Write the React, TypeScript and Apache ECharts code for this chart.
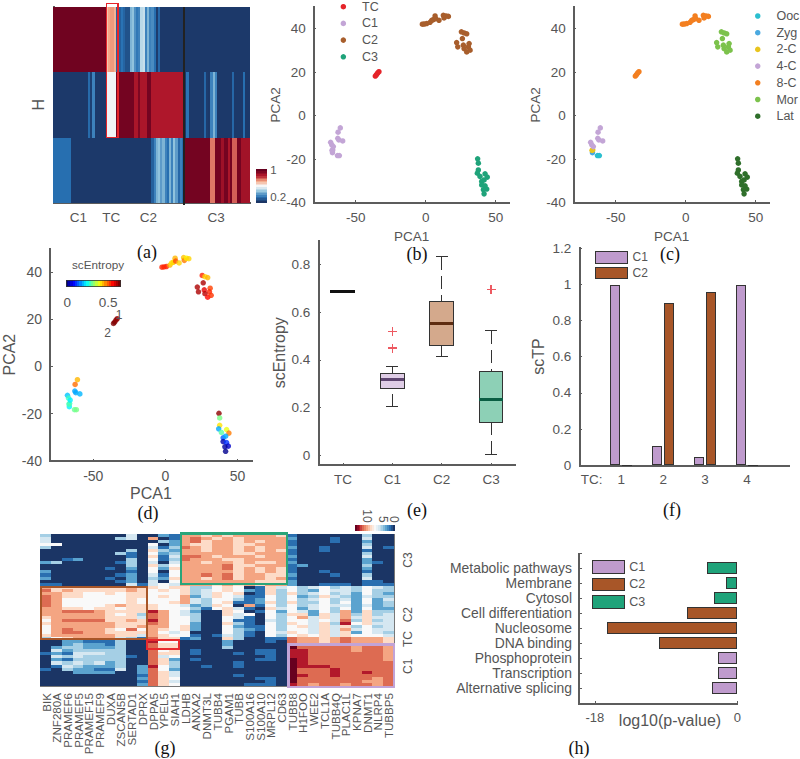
import React, { useEffect, useRef } from "react";
import * as echarts from "echarts";

// ---------- panel (a): H matrix ----------
const hTop = [0.98,0.98,0.98,0.98,0.98,0.98,0.98,0.98,0.98,0.98,0.98,0.98,0.98,0.98,0.98,0.98,0.98,0.98,0.98,0.98,0.98,0.98,0.98,0.98,0.6,0.66,0.68,0.68,0.64,0.12,0.12,0.17,0.13,0.08,0.08,0.3,0.33,0.23,0.18,0.2,0.4,0.42,0.2,0.3,0.2,0.22,0.16,0.02,0.14,0.01,0.01,0.01,0.01,0.01,0.01,0.01,0.01,0.01,0.01,0.01,0.01,0.01,0.01,0.01,0.01,0.01,0.01,0.01,0.01,0.01,0.01,0.01,0.01,0.01,0.01,0.01,0.01,0.01,0.01,0.01,0.01,0.01,0.01,0.01,0.01,0.01,0.01,0.01,0.01,0.01];
const hMid = [0.01,0.01,0.01,0.01,0.01,0.01,0.01,0.01,0.01,0.01,0.01,0.01,0.01,0.01,0.01,0.01,0.15,0.03,0.2,0.01,0.01,0.01,0.01,0.01,0.49,0.49,0.49,0.49,0.49,0.97,0.97,0.97,0.97,0.97,0.97,0.97,0.97,0.85,0.85,0.95,0.85,0.85,0.85,0.97,0.97,0.84,0.84,0.84,0.84,0.84,0.84,0.84,0.84,0.84,0.84,0.84,0.84,0.84,0.84,0.84,0.01,0.17,0.01,0.01,0.01,0.01,0.01,0.01,0.01,0.14,0.02,0.01,0.2,0.3,0.2,0.01,0.01,0.01,0.01,0.01,0.01,0.01,0.14,0.01,0.01,0.01,0.01,0.16,0.01,0.01];
const hBot = [0.16,0.16,0.16,0.16,0.16,0.16,0.16,0.16,0.01,0.01,0.01,0.01,0.01,0.01,0.01,0.01,0.01,0.01,0.01,0.01,0.01,0.01,0.01,0.01,0.01,0.01,0.01,0.01,0.01,0.01,0.01,0.01,0.01,0.01,0.01,0.01,0.01,0.01,0.01,0.01,0.01,0.01,0.01,0.01,0.01,0.12,0.2,0.3,0.33,0.25,0.3,0.2,0.16,0.3,0.2,0.33,0.25,0.14,0.2,0.16,0.97,0.97,0.97,0.97,0.97,0.97,0.97,0.97,0.97,0.97,0.97,0.97,0.72,0.72,0.97,0.97,0.97,0.88,0.97,0.97,0.85,0.97,0.75,0.75,0.97,0.97,0.87,0.87,0.87,0.87];
const hLabelAt: Record<number, string> = { 11: "C1", 26: "TC", 43: "C2", 74: "C3" };
const hColorbar = [0,0.05,0.1,0.15,0.2,0.25,0.3,0.35,0.4,0.45,0.5,0.55,0.6,0.65,0.7,0.75,0.8,0.85,0.9,0.95,1];
const hColorbarLabels: Record<number, string> = { 3: "0.2", 20: "1" };

// ---------- panels (b, c, d): PCA coordinates ----------
const oocPts = [[-63,-18.3],[-61.7,-18.3]];
const zygPts = [[-66.6,-17]];
const twoCellPts = [[-66.4,-15.7],[-66.9,-15.9]];
const fourCellPts = [[-61,-5.6],[-62.6,-7.6],[-62.8,-10.4],[-62.1,-11.1],[-59.3,-11.6],[-67.9,-12.2],[-67.1,-13.4],[-66,-14.2]];
const tcPts = [[-36,18.2],[-35.2,18.8],[-34.3,19.6],[-33.4,20.2]];
const eightCellPts = [[-2.4,42],[-1,42.1],[0.7,42.3],[3.1,42.9],[4.3,43.8],[5.5,44.1],[6.7,45.8],[7.1,44.6],[9.5,43.8],[12.6,46.1],[13.1,44.9],[14.5,45.8],[16.2,45.6]];
const morulaPts = [[25.5,38.5],[27.4,38],[29.3,37.6],[26.2,35.4],[22.1,33.6],[22.9,31.6],[26.9,32.4],[31,33.1],[30.5,31.6],[27.4,30.8],[29.3,29.3],[31.7,30.1]];
const latePts = [[37.1,-19.8],[37.6,-21.8],[37.6,-24.9],[36.9,-26.4],[38.8,-27.9],[42.4,-26.7],[44,-28.2],[40,-30.2],[41.7,-29.5],[40,-31.8],[42.4,-32.2],[43.6,-33.7],[41.2,-34],[41.7,-35.9]];

const oocEntropy = [0.33,0.34];
const zygEntropy = [0.25];
const twoCellEntropy = [0.3,0.31];
const fourCellEntropy = [0.48,0.53,0.2,0.2,0.21,0.22,0.3,0.25];
const tcEntropy = [0.69,0.69,0.68,0.68];
const eightCellEntropy = [0.58,0.58,0.58,0.48,0.45,0.46,0.48,0.55,0.46,0.47,0.52,0.44,0.46];
const morulaEntropy = [0.58,0.46,0.48,0.66,0.66,0.66,0.62,0.56,0.58,0.65,0.6,0.57];
const lateEntropy = [0.68,0.34,0.45,0.2,0.32,0.42,0.52,0.15,0.2,0.03,0.12,0.05,0.02,0.01];
const entropyBar = [0,0.03,0.06,0.09,0.12,0.15,0.18,0.21,0.24,0.27,0.3,0.33,0.36,0.39,0.42,0.45,0.48,0.51,0.54,0.57,0.6,0.63,0.66,0.69];
const entropyBarLabels: Record<number, string> = { 0: "0", 18: "0.5" };

// ---------- panel (e): scEntropy boxes ----------
const boxCategories = ["TC", "C1", "C2", "C3"];
const boxStats = [
  [0, 0.685, 0.685, 0.685, 0.685, 0.685],
  [1, 0.204, 0.28, 0.32, 0.345, 0.372],
  [2, 0.415, 0.46, 0.552, 0.645, 0.833],
  [3, 0.004, 0.14, 0.235, 0.352, 0.523],
];
const boxFills = ["#111111", "#dfcde6", "#d4a98c", "#8dd0b6"];
const boxMedians = ["#111111", "#5e4570", "#5e2c10", "#0a5e43"];
const boxOutliers = [[1, 0.52], [1, 0.45], [3, 0.695]];

// ---------- panel (f): scTP ----------
const tpCategories = ["", "1", "2", "3", "4", " "];
const tpC1 = [null, 0.995, 0.105, 0.045, 0.995, null];
const tpC2 = [null, 0.003, 0.895, 0.955, 0.003, null];

// ---------- panel (g): marker genes ----------
const geneNames = ["BIK","ZNF280A","PRAMEF6","PRAMEF5","PRAMEF15","PRAMEF9","DUXA","ZSCAN5B","SERTAD1","DPRX","DPPA5","YPEL5","SIAH1","LDHB","ANXA2","DNMT3L","TUBB4","PGAM1","TUBB","S100A16","S100A10","MRPL12","CD63","TUBB8","H1FOO","WEE2","TCL1A","TUBB4Q","PLAC1L","KPNA7","DNMT1","NLRP4","TUBBP5"];
const geneRowLabels: Record<number, string> = { 8: "C3", 26: "C2", 34: "TC", 43: "C1" };
const geneLevels = [
  "3000000040 021 7767677776 1000000300",
  "4000000340 701 7876767777 2000100400",
  "4000000000 032 7867767677 1000100200",
  "5500000000 502 7667766777 1000000300",
  "3000000000 413 8767767677 2001000401",
  "0000000030 632 7767767676 1001000100",
  "0000000310 523 7777766777 1000000300",
  "0000000010 614 8876777677 2000000400",
  "0012000030 513 8777667777 1000000200",
  "2300000130 404 7767767667 2000000210",
  "0000000030 635 7777866777 1200000300",
  "0000001020 526 7777867676 1000000200",
  "2000000010 505 7777767676 1001000100",
  "1000000120 415 7787867766 2000100300",
  "2000001020 326 7767867767 1000000400",
  "0000000120 405 7777777666 2000000110",
  "1100000041 454 7776767677 2001110111",
  "7666666676 656 6335650164 5345343543",
  "8676666676 565 6345652163 5325443533",
  "7766556566 555 6346560163 6345342532",
  "8766555566 565 7246541153 5236432433",
  "8755555565 555 7435531253 5345342524",
  "8755555565 556 7435611263 6335352523",
  "8755556766 655 4236507153 5345442423",
  "7766566566 655 5315641064 5245352522",
  "7788876666 975 4200650152 5425372633",
  "7777776563 875 4300645053 6626473634",
  "6777776664 875 5300541053 5746474644",
  "5788886676 975 5300511043 5545483634",
  "6777777666 875 5200631053 6546395644",
  "5777777667 775 6200521153 5646463534",
  "5787776585 765 6200532153 5546474544",
  "5788776666 754 5000531054 6546462543",
  "6777777664 765 5101431053 5656465554",
  "3567777431 866 1200630011 8776787776",
  "0022111300 955 0000200010 8776787776",
  "0023221300 866 0000200000 9888888887",
  "0233222300 866 0000300000 a888887887",
  "0423333300 856 0100000110 9988887887",
  "1214443300 866 0100010110 9988888887",
  "0434333310 845 0000000010 9988888887",
  "0213333300 862 0100000110 a988888887",
  "0434342300 863 0000010000 a988888888",
  "0143222302 953 0010010000 a999888888",
  "1032211402 852 0000000000 a888988888",
  "0002222002 864 0000000000 a888988988",
  "0000000001 864 0000010000 a988988888",
  "0000000002 865 0000000110 a888888878",
  "0000000001 864 0000000010 a888888778",
  "0000000002 865 0000001110 9878878878",
];
const geneBar = [10,9.5,9,8.5,8,7.5,7,6.5,6,5.5,5,4.5,4,3.5,3,2.5,2,1.5,1,0.5,0];
const geneBarLabels: Record<number, string> = { 6: "10", 14: "5", 20: "0" };

// ---------- panel (h): enrichment ----------
const termNames = ["", "Alternative splicing", "Transcription", "Phosphoprotein", "DNA binding", "Nucleosome", "Cell differentiation", "Cytosol", "Membrane", "Metabolic pathways", " "];
const enrichC1 = [null, -3.22, -2.38, -2.38, null, null, null, null, null, null, null];
const enrichC2 = [null, null, null, null, -9.83, -16.5, -6.32, null, null, null, null];
const enrichC3 = [null, null, null, null, null, null, null, -2.93, -1.42, -3.77, null];

const PURPLE = "#bf9bcd";
const BROWN = "#a85628";
const GREEN = "#1fa37a";
const AXIS = "#5c5c5c";
const TEXT = "#555555";
const SANS = "Liberation Sans";
const RDBU = ["#1b3565", "#2871b3", "#92c5de", "#f7f7f7", "#f4a582", "#b2182b", "#67001f"];
const GENE_SCALE = ["#1b3565", "#2a6fb0", "#5ba3cf", "#a5cfe5", "#d5e7f1", "#f9f9f9", "#fddbc7", "#f4a582", "#dd6b52", "#b2182b", "#67001f"];
const JET = ["#00007f", "#0000ff", "#007fff", "#00ffff", "#7fff7f", "#ffff00", "#ff7f00", "#ff0000", "#7f0000"];

function valueAxis(gridIndex: number, min: number, max: number, ticks: number[], name: string, nameGap: number, nameSize: number, fontSize = 13.5) {
  return {
    type: "value", gridIndex, min, max, name, nameGap, nameLocation: "middle",
    nameTextStyle: { fontFamily: SANS, fontSize: nameSize, color: TEXT },
    axisLine: { show: true, onZero: false, lineStyle: { color: AXIS, width: 1.5 } },
    axisTick: { show: true, inside: true, length: 2.5, customValues: ticks, lineStyle: { color: AXIS } },
    axisLabel: { show: true, customValues: ticks, fontFamily: SANS, fontSize, color: TEXT, margin: 8, hideOverlap: false },
    splitLine: { show: false },
  };
}

function catAxis(gridIndex: number, data: string[], extra: any = {}) {
  return {
    type: "category", gridIndex, data,
    axisLine: { show: true, onZero: false, lineStyle: { color: AXIS, width: 1.5 } },
    axisTick: { show: false },
    axisLabel: { interval: 0, fontFamily: SANS, fontSize: 13.5, color: TEXT, hideOverlap: false },
    splitLine: { show: false },
    splitArea: { show: false },
    ...extra,
  };
}

const indexNames = (n: number) => Array.from({ length: n }, (_, i) => String(i));
const toPoints = (pts: number[][], values: number[]) => pts.map((p, i) => [p[0], p[1], values[i]]);

function caption(text: string, x: number, y: number) {
  return { type: "text", x, y, z: 100, style: { text, fontFamily: "Liberation Serif", fontSize: 18, fill: "#111", align: "center", verticalAlign: "middle" } };
}
function note(text: string, x: number, y: number, fontSize: number, rotation = 0) {
  return { type: "text", x, y, rotation, z: 100, style: { text, fontFamily: SANS, fontSize, fill: TEXT, align: "center", verticalAlign: "middle" } };
}
function frame(x: number, y: number, width: number, height: number, stroke: string, lineWidth = 2) {
  return { type: "rect", z: 100, shape: { x, y, width, height }, style: { fill: "none", stroke, lineWidth } };
}

function renderBox(params: any, api: any) {
  const cat = api.value(0);
  const low = api.coord([cat, api.value(1)]);
  const q1 = api.coord([cat, api.value(2)]);
  const med = api.coord([cat, api.value(3)]);
  const q3 = api.coord([cat, api.value(4)]);
  const high = api.coord([cat, api.value(5)]);
  const x = med[0];
  const i = params.dataIndex;
  if (api.value(2) === api.value(4)) {
    return { type: "line", shape: { x1: x - 12.5, y1: med[1], x2: x + 12.5, y2: med[1] }, style: { stroke: boxMedians[i], lineWidth: 3 } };
  }
  const line = (x1: number, y1: number, x2: number, y2: number, style: any) => ({ type: "line", shape: { x1, y1, x2, y2 }, style: { stroke: "#333", lineWidth: 1, ...style } });
  return {
    type: "group",
    children: [
      line(x, high[1], x, q3[1], { lineDash: [13, 6] }),
      line(x, low[1], x, q1[1], { lineDash: [13, 6] }),
      line(x - 6, high[1], x + 6, high[1], {}),
      line(x - 6, low[1], x + 6, low[1], {}),
      { type: "rect", shape: { x: x - 11.8, y: q3[1], width: 23.6, height: q1[1] - q3[1] }, style: { fill: boxFills[i], stroke: "#333", lineWidth: 1 } },
      line(x - 11.8, med[1], x + 11.8, med[1], { stroke: boxMedians[i], lineWidth: 3 }),
    ],
  };
}

function buildOption() {
  const allEntropy = [
    ...toPoints(oocPts, oocEntropy), ...toPoints(zygPts, zygEntropy), ...toPoints(twoCellPts, twoCellEntropy),
    ...toPoints(fourCellPts, fourCellEntropy), ...toPoints(tcPts, tcEntropy), ...toPoints(eightCellPts, eightCellEntropy),
    ...toPoints(morulaPts, morulaEntropy), ...toPoints(latePts, lateEntropy),
  ];
  const hCells: number[][] = [];
  [hBot, hMid, hTop].forEach((row, y) => row.forEach((v, x) => hCells.push([x, y, v])));
  const geneCells: number[][] = [];
  geneLevels.forEach((row, y) => row.replace(/ /g, "").split("").forEach((c, x) => geneCells.push([x, y, parseInt(c, 11)])));

  const grids = [
    { left: 53.3, top: 6.8, width: 196.7, height: 196 },
    { left: 256.7, top: 169.3, width: 10, height: 33.4 },
    { left: 313.7, top: 6.8, width: 196, height: 196 },
    { left: 573.7, top: 6.8, width: 196, height: 196 },
    { left: 47.6, top: 248.3, width: 204.4, height: 212.7 },
    { left: 66, top: 280.7, width: 54.7, height: 6 },
    { left: 318.3, top: 240.6, width: 197.4, height: 224.4 },
    { left: 579.3, top: 248, width: 209.7, height: 217.3 },
    { left: 40.7, top: 534.3, width: 353.3, height: 151.7 },
    { left: 355, top: 525.7, width: 40, height: 5.3 },
    { left: 579, top: 553.3, width: 158.3, height: 150 },
  ].map((g) => ({ ...g, containLabel: false }));

  const xAxes: any[] = [
    catAxis(0, indexNames(90), { axisLabel: { interval: 0, margin: 8, fontFamily: SANS, fontSize: 13.5, color: TEXT, hideOverlap: false, formatter: (_: string, i: number) => hLabelAt[i] || "" } }),
    catAxis(1, ["bar"], { show: false }),
    valueAxis(2, -80, 60, [-50, 0, 50], "PCA1", 27, 13.5),
    valueAxis(3, -80, 60, [-50, 0, 50], "PCA1", 27, 13.5),
    valueAxis(4, -80, 60, [-50, 0, 50], "PCA1", 24, 16, 14),
    catAxis(5, entropyBar.map(String), { axisLine: { show: false }, axisLabel: { interval: 0, margin: 9, fontFamily: SANS, fontSize: 13.5, color: TEXT, hideOverlap: false, formatter: (_: string, i: number) => entropyBarLabels[i] || "" } }),
    catAxis(6, boxCategories, { axisTick: { show: true, inside: true, alignWithLabel: true, length: 2.5, lineStyle: { color: AXIS } }, axisLabel: { interval: 0, margin: 7, fontFamily: SANS, fontSize: 13.5, color: TEXT } }),
    catAxis(7, tpCategories, { boundaryGap: false, axisLabel: { interval: 0, margin: 7, fontFamily: SANS, fontSize: 13.5, color: TEXT } }),
    catAxis(8, geneNames, { axisLine: { show: true, lineStyle: { color: "#777", width: 1 } }, axisTick: { show: true, inside: true, length: 2, alignWithLabel: true, lineStyle: { color: "#333" } }, axisLabel: { interval: 0, rotate: 90, margin: 7, fontFamily: SANS, fontSize: 11.6, color: TEXT, hideOverlap: false } }),
    catAxis(9, indexNames(21), { position: "top", axisLine: { show: false }, axisLabel: { interval: 0, rotate: 90, margin: 3, fontFamily: SANS, fontSize: 12, color: TEXT, hideOverlap: false, formatter: (_: string, i: number) => geneBarLabels[i] || "" } }),
    valueAxis(10, -20, 0, [-18, 0], "", 0, 12, 13),
  ];
  const yAxes: any[] = [
    catAxis(0, ["bottom", "middle", "top"], { axisLabel: { show: false }, name: "H", nameLocation: "middle", nameGap: 7, nameTextStyle: { fontFamily: SANS, fontSize: 16, color: TEXT } }),
    catAxis(1, indexNames(21), { position: "right", axisLine: { show: false }, axisLabel: { interval: 0, margin: 3.5, fontFamily: SANS, fontSize: 11.5, color: TEXT, hideOverlap: false, formatter: (_: string, i: number) => hColorbarLabels[i] || "" } }),
    valueAxis(2, -40, 50, [-40, -20, 0, 20, 40], "PCA2", 30, 13.5),
    valueAxis(3, -40, 50, [-40, -20, 0, 20, 40], "PCA2", 30, 13.5),
    valueAxis(4, -40, 50, [-40, -20, 0, 20, 40], "PCA2", 33, 16, 14),
    catAxis(5, ["bar"], { show: false }),
    valueAxis(6, -0.04, 0.9, [0, 0.2, 0.4, 0.6, 0.8], "scEntropy", 30, 16),
    valueAxis(7, 0, 1.2, [0, 0.2, 0.4, 0.6, 0.8, 1, 1.2], "scTP", 33, 16),
    catAxis(8, indexNames(50), { inverse: true, position: "right", axisLine: { show: true, lineStyle: { color: "#777", width: 1 } }, axisLabel: { interval: 0, rotate: 90, margin: 8, fontFamily: SANS, fontSize: 12, color: TEXT, hideOverlap: false, formatter: (_: string, i: number) => geneRowLabels[i] || "" } }),
    catAxis(9, ["bar"], { show: false }),
    catAxis(10, termNames, { boundaryGap: false, axisTick: { show: true, inside: true, length: 2.5, alignWithLabel: true, lineStyle: { color: AXIS } }, axisLabel: { interval: 0, margin: 7, fontFamily: SANS, fontSize: 13.9, color: TEXT, hideOverlap: false } }),
  ];

  const scatter = (name: string, axis: number, data: number[][], color: string, size = 5.5) => ({
    type: "scatter", name, xAxisIndex: axis, yAxisIndex: axis, data, symbolSize: size, itemStyle: { color, opacity: 1 }, silent: true,
  });
  const heat = (name: string, axis: number, data: number[][]) => ({
    type: "heatmap", name, xAxisIndex: axis, yAxisIndex: axis, data, progressive: 0, silent: true, itemStyle: { borderWidth: 0 },
  });
  const bar = (name: string, axis: number, data: any[], color: string, width: number, gap: string) => ({
    type: "bar", name, xAxisIndex: axis, yAxisIndex: axis, data, barWidth: width, barGap: gap, silent: true,
    itemStyle: { color, borderColor: "#333", borderWidth: 1 },
  });

  const series: any[] = [
    heat("H", 0, hCells),                                                         // 0
    heat("H scale", 1, hColorbar.map((v, i) => [0, i, v])),                        // 1
    scatter("TC", 2, tcPts, "#e5242a"),
    scatter("C1", 2, [...oocPts, ...zygPts, ...twoCellPts, ...fourCellPts], "#c3a5d6"),
    scatter("C2", 2, [...eightCellPts, ...morulaPts], "#a85e2c"),
    scatter("C3", 2, latePts, "#1fa37a"),
    scatter("Ooc", 3, oocPts, "#2bbfcf"),
    scatter("Zyg", 3, zygPts, "#4aa9e0"),
    scatter("2-C", 3, twoCellPts, "#e8c41e"),
    scatter("4-C", 3, fourCellPts, "#c3a5d6"),
    scatter("8-C", 3, [...tcPts, ...eightCellPts], "#f37f20"),
    scatter("Mor", 3, morulaPts, "#7cc24c"),
    scatter("Lat", 3, latePts, "#2f6f2b"),
    { type: "scatter", name: "scEntropy", xAxisIndex: 4, yAxisIndex: 4, data: allEntropy, symbolSize: 5.5, silent: true }, // 13
    heat("scEntropy scale", 5, entropyBar.map((v, i) => [i, 0, v])),               // 14
    {
      type: "custom", name: "boxes", xAxisIndex: 6, yAxisIndex: 6, data: boxStats, renderItem: renderBox, silent: true,
      encode: { x: 0, y: [1, 2, 3, 4, 5] },
    },
    {
      type: "scatter", name: "outliers", xAxisIndex: 6, yAxisIndex: 6, data: boxOutliers, symbolSize: 9, silent: true,
      symbol: "path://M4.4 0h1.2v4.4h4.4v1.2h-4.4v4.4h-1.2v-4.4h-4.4v-1.2h4.4z", itemStyle: { color: "#e8303a" },
    },
    bar("C1", 7, tpC1, PURPLE, 10, "17%"),
    bar("C2", 7, tpC2, BROWN, 10, "17%"),
    heat("genes", 8, geneCells),                                                   // 19
    heat("genes scale", 9, geneBar.map((v, i) => [i, 0, v])),                      // 20
    bar("C1", 10, enrichC1, PURPLE, 12, "-100%"),
    bar("C2", 10, enrichC2, BROWN, 12, "-100%"),
    bar("C3", 10, enrichC3, GREEN, 12, "-100%"),
  ];

  const legendText = (fontSize: number) => ({ fontFamily: SANS, fontSize, color: TEXT });
  const swatch = (name: string, color: string) => ({ name, icon: "rect", itemStyle: { color, borderColor: "#333", borderWidth: 1 } });

  return {
    animation: false,
    backgroundColor: "#ffffff",
    grid: grids,
    xAxis: xAxes,
    yAxis: yAxes,
    series,
    visualMap: [
      { type: "continuous", show: false, min: 0, max: 1, dimension: 2, seriesIndex: [0, 1], inRange: { color: RDBU } },
      { type: "continuous", show: false, min: 0, max: 0.69, dimension: 2, seriesIndex: [13, 14], inRange: { color: JET } },
      { type: "continuous", show: false, min: 0, max: 10, dimension: 2, seriesIndex: [19, 20], inRange: { color: GENE_SCALE } },
    ],
    legend: [
      { left: 340.6, top: 0.2, padding: 0, orient: "vertical", selectedMode: false, itemWidth: 27.4, itemHeight: 5.5, itemGap: 3.7, data: ["TC", "C1", "C2", "C3"].map((name) => ({ name, icon: "circle" })), textStyle: legendText(12.5) },
      { left: 755, top: 9.5, padding: 0, orient: "vertical", selectedMode: false, itemWidth: 27.4, itemHeight: 5.5, itemGap: 3.7, data: ["Ooc", "Zyg", "2-C", "4-C", "8-C", "Mor", "Lat"].map((name) => ({ name, icon: "circle" })), textStyle: legendText(12.5) },
      { left: 595, top: 251, padding: 0, orient: "vertical", selectedMode: false, itemWidth: 32, itemHeight: 11.5, itemGap: 3, data: [swatch("C1", PURPLE), swatch("C2", BROWN)], textStyle: legendText(12) },
      { left: 591.7, top: 560, padding: 0, orient: "vertical", selectedMode: false, itemWidth: 32, itemHeight: 12.5, itemGap: 4.2, data: [swatch("C1", PURPLE), swatch("C2", BROWN), swatch("C3", GREEN)], textStyle: legendText(12.5) },
    ],
    graphic: [
      caption("(a)", 147, 252), caption("(b)", 417, 254), caption("(c)", 670, 254),
      caption("(d)", 148, 513), caption("(e)", 417, 510), caption("(f)", 672, 510),
      caption("(g)", 165, 748), caption("(h)", 579, 748),
      frame(106.5, 3.5, 11.5, 134, "#e5242a", 1.6),
      { type: "line", z: 100, shape: { x1: 184, y1: 6.8, x2: 184, y2: 205 }, style: { stroke: "#222", lineWidth: 1.2 } },
      { type: "rect", z: 100, shape: { x: 66, y: 280.7, width: 54.7, height: 6 }, style: { fill: "none", stroke: "#333", lineWidth: 0.8 } },
      frame(181, 533.5, 106.3, 50.8, "#2aa57a", 2.2),
      frame(41, 586.7, 105.7, 52.3, "#a85628", 2.2),
      frame(147.3, 640.3, 32, 8.7, "#e82a2e", 2.2),
      frame(288.3, 644.3, 105.7, 42.7, "#c2a3d6", 2.4),
      note("scEntropy", 98, 264, 11.7),
      note("1", 119, 315, 12), note("2", 107.7, 332.7, 12),
      note("TC:", 591.7, 479, 13.5),
      note("log10(p-value)", 670, 720, 16),
    ],
  };
}

export default function App() {
  const ref = useRef<HTMLDivElement>(null);
  useEffect(() => {
    const chart = echarts.init(ref.current!, undefined, { renderer: "svg", width: 800, height: 759 });
    chart.setOption(buildOption() as any);
    return () => chart.dispose();
  }, []);
  return (
    <>
      <style>{`svg path:not([d*="A"]) { shape-rendering: crispEdges; }`}</style>
      <div ref={ref} style={{ position: "absolute", left: 0, top: 0, width: 800, height: 759 }} />
    </>
  );
}
